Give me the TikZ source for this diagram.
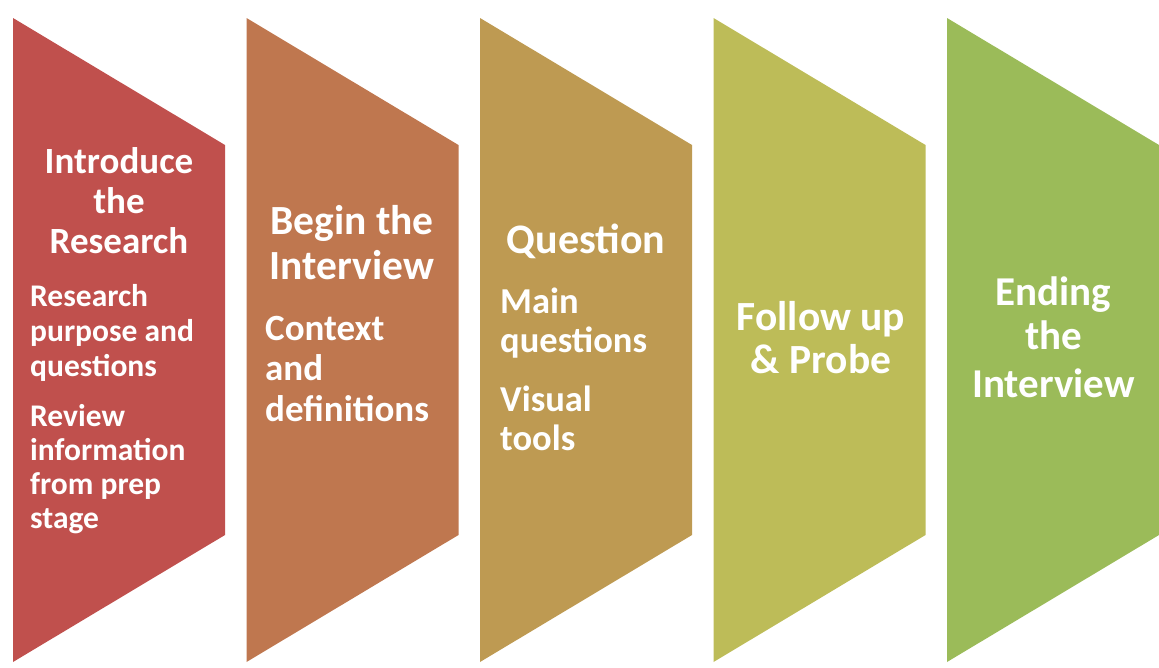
\documentclass[tikz,border=0pt]{standalone}
\usepackage{fontspec}
\setmainfont{Carlito}
\begin{document}
\begin{tikzpicture}[x=1pt,y=-1pt,
  stage/.style={fill=#1,draw=none},
  title/.style={text=white,font=\bfseries\fontsize{#1}{#1}\selectfont,inner sep=0pt,anchor=base},
  sub/.style={text=white,font=\bfseries\fontsize{#1}{#1}\selectfont,inner sep=0pt,anchor=base west}]
\definecolor{cA}{HTML}{C0504D}
\definecolor{cB}{HTML}{BF774F}
\definecolor{cC}{HTML}{BE9A52}
\definecolor{cD}{HTML}{BDBC58}
\definecolor{cE}{HTML}{9BBB59}
\useasboundingbox (0,0) rectangle (1159,667);
% five stage panels: full-height left edge, sloped top and bottom
\foreach \l/\c in {13/cA,246.5/cB,480/cC,713.5/cD,947/cE}{
  \fill[stage=\c] (\l,18) -- (\l+212,145) -- (\l+212,535) -- (\l,662) -- cycle;
}
% stage 1: introduce the research
\foreach \s/\y [count=\i] in {Introduce/173,the/213,Research/253}
  \node[title=37] (t1-\i) at (119,\y) {\s};
\foreach \s/\y [count=\i] in {Research/306,purpose and/341,questions/376,
    Review/426,information/460,from prep/494,stage/528}
  \node[sub=31.5] (s1-\i) at (30,\y) {\s};
% stage 2: begin the interview
\foreach \s/\y [count=\i] in {Begin the/234,Interview/279}
  \node[title=41.5] (t2-\i) at (352,\y) {\s};
\foreach \s/\y [count=\i] in {Context/340,and/380.5,definitions/421}
  \node[sub=37] (s2-\i) at (265,\y) {\s};
% stage 3: question
\node[title=42] (t3-1) at (586,253) {Question};
\foreach \s/\y [count=\i] in {Main/313,questions/352,Visual/411.5,tools/450.5}
  \node[sub=36.5] (s3-\i) at (500,\y) {\s};
% stage 4: follow up and probe
\foreach \s/\y [count=\i] in {Follow up/330,\& Probe/373}
  \node[title=41.5] (t4-\i) at (821,\y) {\s};
% stage 5: ending the interview
\foreach \s/\y [count=\i] in {Ending/305,the/349,Interview/397}
  \node[title=41] (t5-\i) at (1053.5,\y) {\s};
\end{tikzpicture}
\end{document}
